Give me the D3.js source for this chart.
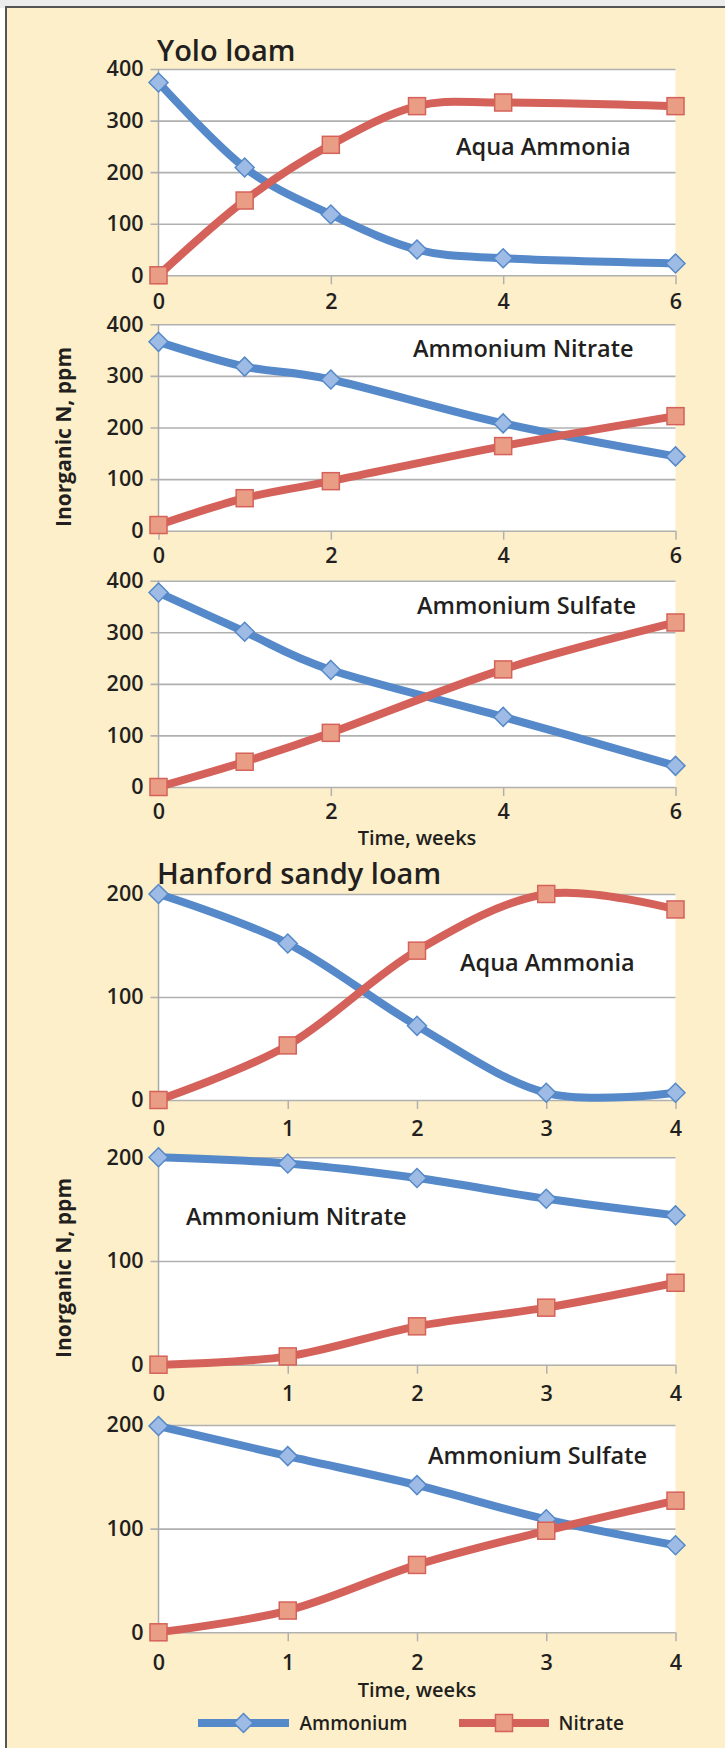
<!DOCTYPE html>
<html>
<head>
<meta charset="utf-8">
<script src="https://cdn.jsdelivr.net/npm/d3@7"></script>
<style>
  body { margin: 0; background: #fff; }
  text { font-family: "Open Sans", sans-serif; fill: #231f20; }
</style>
</head>
<body>
<svg id="chart" width="725" height="1748"></svg>
<script>
// data (ppm inorganic N by week)
const yoloAquaWeeks = [0, 1, 2, 3, 4, 6];
const yoloAquaAmmonium = [374, 209, 118, 50, 33, 23];
const yoloAquaNitrate = [0, 145, 253, 328, 335, 328];

const yoloWeeks = [0, 1, 2, 4, 6];
const yoloNitrateAmmonium = [366, 318, 293, 208, 144];
const yoloNitrateNitrate = [11, 63, 96, 164, 222];
const yoloSulfateAmmonium = [377, 301, 227, 136, 41];
const yoloSulfateNitrate = [0, 49, 105, 228, 319];

const hanfordWeeks = [0, 1, 2, 3, 4];
const hanfordAquaAmmonium = [200, 152, 72, 7, 7];
const hanfordAquaNitrate = [0, 53, 145, 200, 185];
const hanfordNitrateAmmonium = [200, 194, 180, 160, 144];
const hanfordNitrateNitrate = [0, 8, 37, 55, 79];
const hanfordSulfateAmmonium = [199, 170, 142, 109, 84];
const hanfordSulfateNitrate = [0, 21, 65, 98, 127];

const yoloXTicks = [0, 2, 4, 6];
const yoloYTicks = [0, 100, 200, 300, 400];
const hanfordXTicks = [0, 1, 2, 3, 4];
const hanfordYTicks = [0, 100, 200];

const seriesNames = ['Ammonium', 'Nitrate'];

const blue = '#5589c9', blueFill = '#9dbbe4';
const red = '#d5625a', redFill = '#ea9d85';
const gridColor = '#b0b0b0';

const left = 158.5, right = 675.5;

let svg = d3.select('#chart');

// page background + frame
svg.append('rect').attr('x', 0).attr('y', 0).attr('width', 725).attr('height', 8).attr('fill', '#ececec');
svg.append('rect').attr('x', 6).attr('y', 7).attr('width', 725).attr('height', 1748).attr('fill', '#fdefc9');
svg.append('line').attr('x1', 6).attr('x2', 725).attr('y1', 7).attr('y2', 7).attr('stroke', '#555').attr('stroke-width', 2);
svg.append('line').attr('x1', 6).attr('x2', 6).attr('y1', 6).attr('y2', 1748).attr('stroke', '#555').attr('stroke-width', 2);

let panels = [
  {top: 69, bottom: 275.3, xMax: 6, yMax: 400, xTicks: yoloXTicks, yTicks: yoloYTicks, weeks: yoloAquaWeeks,
    amm: yoloAquaAmmonium, nit: yoloAquaNitrate, label: 'Aqua Ammonia', lx: 456, ly: 155, tickOff: 29},
  {top: 324.3, bottom: 530.7, xMax: 6, yMax: 400, xTicks: yoloXTicks, yTicks: yoloYTicks, weeks: yoloWeeks,
    amm: yoloNitrateAmmonium, nit: yoloNitrateNitrate, label: 'Ammonium Nitrate', lx: 413, ly: 357, tickOff: 28},
  {top: 580.7, bottom: 787, xMax: 6, yMax: 400, xTicks: yoloXTicks, yTicks: yoloYTicks, weeks: yoloWeeks,
    amm: yoloSulfateAmmonium, nit: yoloSulfateNitrate, label: 'Ammonium Sulfate', lx: 417, ly: 614, tickOff: 28, xTitle: 845},
  {top: 894, bottom: 1100, xMax: 4, yMax: 200, xTicks: hanfordXTicks, yTicks: hanfordYTicks, weeks: hanfordWeeks,
    amm: hanfordAquaAmmonium, nit: hanfordAquaNitrate, label: 'Aqua Ammonia', lx: 460, ly: 971, tickOff: 32},
  {top: 1157.3, bottom: 1364.7, xMax: 4, yMax: 200, xTicks: hanfordXTicks, yTicks: hanfordYTicks, weeks: hanfordWeeks,
    amm: hanfordNitrateAmmonium, nit: hanfordNitrateNitrate, label: 'Ammonium Nitrate', lx: 186, ly: 1225, tickOff: 32},
  {top: 1425, bottom: 1632.3, xMax: 4, yMax: 200, xTicks: hanfordXTicks, yTicks: hanfordYTicks, weeks: hanfordWeeks,
    amm: hanfordSulfateAmmonium, nit: hanfordSulfateNitrate, label: 'Ammonium Sulfate', lx: 428, ly: 1464, tickOff: 33, xTitle: 1697}
];

function drawDiamond(g, x, y) {
  g.append('path')
    .attr('d', 'M0,-9.5L9.5,0L0,9.5L-9.5,0Z')
    .attr('transform', `translate(${x},${y})`)
    .attr('fill', blueFill).attr('stroke', blue).attr('stroke-width', 1.5);
}
function drawSquare(g, x, y) {
  g.append('rect')
    .attr('x', x - 8.5).attr('y', y - 8.5).attr('width', 17).attr('height', 17)
    .attr('fill', redFill).attr('stroke', red).attr('stroke-width', 1.5);
}

panels.forEach(p => {
  let x = d3.scaleLinear().domain([0, p.xMax]).range([left, right]);
  let y = d3.scaleLinear().domain([0, p.yMax]).range([p.bottom, p.top]);
  let g = svg.append('g');

  g.append('rect').attr('x', left).attr('y', p.top).attr('width', right - left).attr('height', p.bottom - p.top).attr('fill', '#fff');

  // gridlines, with short ticks left of the axis
  let yAxis = d3.axisLeft(y).tickValues(p.yTicks).tickFormat(d3.format('d'))
    .tickSizeInner(-(right - left)).tickSizeOuter(0).tickPadding(15);
  let ya = g.append('g').attr('transform', `translate(${left},0)`).call(yAxis);
  ya.select('.domain').remove();
  ya.selectAll('.tick line').attr('x1', -8).attr('stroke', gridColor).attr('stroke-width', 1.6);
  ya.selectAll('.tick text').attr('font-size', 21.5).attr('font-weight', 600)
    .attr('font-family', 'Open Sans').attr('fill', '#231f20');

  // y axis line
  g.append('line').attr('x1', left).attr('x2', left).attr('y1', p.top).attr('y2', p.bottom).attr('stroke', '#a8a8a8').attr('stroke-width', 1.5);

  let xAxis = d3.axisBottom(x).tickValues(p.xTicks).tickFormat(d3.format('d'))
    .tickSizeInner(9).tickSizeOuter(0).tickPadding(p.tickOff - 9 - 11);
  let xa = g.append('g').attr('transform', `translate(0,${p.bottom})`).call(xAxis);
  xa.select('.domain').remove();
  xa.selectAll('.tick line').attr('stroke', gridColor).attr('stroke-width', 1.5);
  xa.selectAll('.tick text').attr('font-size', 21.5).attr('font-weight', 600)
    .attr('font-family', 'Open Sans').attr('fill', '#231f20');

  let line = d3.line().x(d => x(d[0])).y(d => y(d[1])).curve(d3.curveCatmullRom.alpha(0));
  let amm = p.weeks.map((w, i) => [w, p.amm[i]]);
  let nit = p.weeks.map((w, i) => [w, p.nit[i]]);

  g.append('path').attr('d', line(amm)).attr('fill', 'none').attr('stroke', blue).attr('stroke-width', 8).attr('stroke-linejoin', 'round');
  amm.forEach(d => drawDiamond(g, x(d[0]), y(d[1])));
  g.append('path').attr('d', line(nit)).attr('fill', 'none').attr('stroke', red).attr('stroke-width', 8).attr('stroke-linejoin', 'round');
  nit.forEach(d => drawSquare(g, x(d[0]), y(d[1])));

  g.append('text').attr('x', p.lx).attr('y', p.ly).attr('font-size', 23.5).attr('font-weight', 600).text(p.label);

  if (p.xTitle) {
    g.append('text').attr('x', (left + right) / 2).attr('y', p.xTitle)
      .attr('text-anchor', 'middle').attr('font-size', 20).attr('font-weight', 600).text('Time, weeks');
  }
});

// group titles
svg.append('text').attr('x', 157).attr('y', 61).attr('font-size', 29).attr('font-weight', 600).text('Yolo loam');
svg.append('text').attr('x', 157).attr('y', 884).attr('font-size', 29).attr('font-weight', 600).text('Hanford sandy loam');

// y axis titles
[437, 1268].forEach(cy => {
  svg.append('text')
    .attr('transform', `translate(71,${cy})rotate(-90)`)
    .attr('text-anchor', 'middle')
    .attr('font-size', 21).attr('font-weight', 700)
    .text('Inorganic N, ppm');
});

// legend
let legendY = 1723;
let legend = svg.append('g');
[[198, 289, 299.5], [459, 549, 558.5]].forEach((pos, i) => {
  legend.append('line').attr('x1', pos[0]).attr('x2', pos[1]).attr('y1', legendY).attr('y2', legendY)
    .attr('stroke', i == 0 ? blue : red).attr('stroke-width', 8);
  if (i == 0) drawDiamond(legend, (pos[0] + pos[1]) / 2, legendY);
  else drawSquare(legend, (pos[0] + pos[1]) / 2, legendY);
  legend.append('text').attr('x', pos[2]).attr('y', legendY + 7).attr('font-size', 19).attr('font-weight', 600).text(seriesNames[i]);
});
</script>
</body>
</html>
